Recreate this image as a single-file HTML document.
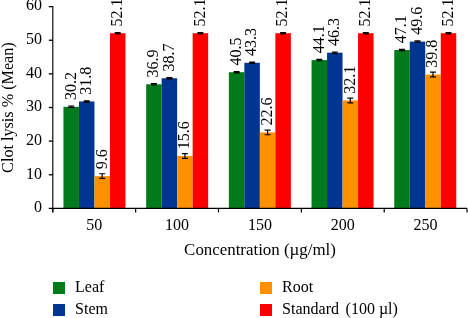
<!DOCTYPE html><html><head><meta charset="utf-8"><style>html,body{margin:0;padding:0;background:#fff;width:468px;height:318px;overflow:hidden}svg{display:block;will-change:transform}</style></head><body><svg width="468" height="318" viewBox="0 0 468 318">
<rect x="63.45" y="106.84" width="15.50" height="101.56" fill="#007a1a"/>
<rect x="146.15" y="84.31" width="15.50" height="124.09" fill="#007a1a"/>
<rect x="228.85" y="72.20" width="15.50" height="136.20" fill="#007a1a"/>
<rect x="311.55" y="60.09" width="15.50" height="148.31" fill="#007a1a"/>
<rect x="394.25" y="50.00" width="15.50" height="158.40" fill="#007a1a"/>
<rect x="78.95" y="101.46" width="15.50" height="106.94" fill="#003591"/>
<rect x="161.65" y="78.25" width="15.50" height="130.15" fill="#003591"/>
<rect x="244.35" y="62.78" width="15.50" height="145.62" fill="#003591"/>
<rect x="327.05" y="52.69" width="15.50" height="155.71" fill="#003591"/>
<rect x="409.75" y="41.60" width="15.50" height="166.80" fill="#003591"/>
<rect x="94.45" y="176.12" width="15.50" height="32.28" fill="#ff9000"/>
<rect x="177.15" y="155.94" width="15.50" height="52.46" fill="#ff9000"/>
<rect x="259.85" y="132.40" width="15.50" height="76.00" fill="#ff9000"/>
<rect x="342.55" y="100.45" width="15.50" height="107.95" fill="#ff9000"/>
<rect x="425.25" y="74.55" width="15.50" height="133.85" fill="#ff9000"/>
<rect x="109.95" y="33.19" width="15.50" height="175.21" fill="#ff0000"/>
<rect x="192.65" y="33.19" width="15.50" height="175.21" fill="#ff0000"/>
<rect x="275.35" y="33.19" width="15.50" height="175.21" fill="#ff0000"/>
<rect x="358.05" y="33.19" width="15.50" height="175.21" fill="#ff0000"/>
<rect x="440.75" y="33.19" width="15.50" height="175.21" fill="#ff0000"/>
<path d="M68.20 106.16H74.20M71.20 106.16V107.51M68.20 107.51H74.20" stroke="#000" stroke-width="1.2" fill="none"/>
<path d="M150.90 83.63H156.90M153.90 83.63V84.98M150.90 84.98H156.90" stroke="#000" stroke-width="1.2" fill="none"/>
<path d="M233.60 71.53H239.60M236.60 71.53V72.87M233.60 72.87H239.60" stroke="#000" stroke-width="1.2" fill="none"/>
<path d="M316.30 59.42H322.30M319.30 59.42V60.76M316.30 60.76H322.30" stroke="#000" stroke-width="1.2" fill="none"/>
<path d="M399.00 49.33H405.00M402.00 49.33V50.68M399.00 50.68H405.00" stroke="#000" stroke-width="1.2" fill="none"/>
<path d="M83.70 100.78H89.70M86.70 100.78V102.13M83.70 102.13H89.70" stroke="#000" stroke-width="1.2" fill="none"/>
<path d="M166.40 77.58H172.40M169.40 77.58V78.92M166.40 78.92H172.40" stroke="#000" stroke-width="1.2" fill="none"/>
<path d="M249.10 62.11H255.10M252.10 62.11V63.45M249.10 63.45H255.10" stroke="#000" stroke-width="1.2" fill="none"/>
<path d="M331.80 52.02H337.80M334.80 52.02V53.37M331.80 53.37H337.80" stroke="#000" stroke-width="1.2" fill="none"/>
<path d="M414.50 40.92H420.50M417.50 40.92V42.27M414.50 42.27H420.50" stroke="#000" stroke-width="1.2" fill="none"/>
<path d="M99.20 173.76H105.20M102.20 173.76V178.47M99.20 178.47H105.20" stroke="#000" stroke-width="1.2" fill="none"/>
<path d="M181.90 153.58H187.90M184.90 153.58V158.29M181.90 158.29H187.90" stroke="#000" stroke-width="1.2" fill="none"/>
<path d="M264.60 130.04H270.60M267.60 130.04V134.75M264.60 134.75H270.60" stroke="#000" stroke-width="1.2" fill="none"/>
<path d="M347.30 98.09H353.30M350.30 98.09V102.80M347.30 102.80H353.30" stroke="#000" stroke-width="1.2" fill="none"/>
<path d="M430.00 72.20H436.00M433.00 72.20V76.91M430.00 76.91H436.00" stroke="#000" stroke-width="1.2" fill="none"/>
<path d="M114.70 32.52H120.70M117.70 32.52V33.86M114.70 33.86H120.70" stroke="#000" stroke-width="1.2" fill="none"/>
<path d="M197.40 32.52H203.40M200.40 32.52V33.86M197.40 33.86H203.40" stroke="#000" stroke-width="1.2" fill="none"/>
<path d="M280.10 32.52H286.10M283.10 32.52V33.86M280.10 33.86H286.10" stroke="#000" stroke-width="1.2" fill="none"/>
<path d="M362.80 32.52H368.80M365.80 32.52V33.86M362.80 33.86H368.80" stroke="#000" stroke-width="1.2" fill="none"/>
<path d="M445.50 32.52H451.50M448.50 32.52V33.86M445.50 33.86H451.50" stroke="#000" stroke-width="1.2" fill="none"/>
<path d="M52.8 6.0V212.2" stroke="#000" stroke-width="1.15" fill="none"/>
<path d="M52.8 208.4H467.05" stroke="#000" stroke-width="1.3" fill="none"/>
<path d="M48.8 208.40H52.8" stroke="#000" stroke-width="1.3"/>
<path d="M48.8 174.77H52.8" stroke="#000" stroke-width="1.3"/>
<path d="M48.8 141.14H52.8" stroke="#000" stroke-width="1.3"/>
<path d="M48.8 107.51H52.8" stroke="#000" stroke-width="1.3"/>
<path d="M48.8 73.88H52.8" stroke="#000" stroke-width="1.3"/>
<path d="M48.8 40.25H52.8" stroke="#000" stroke-width="1.3"/>
<path d="M48.8 6.62H52.8" stroke="#000" stroke-width="1.3"/>
<path d="M52.80 208.4V212.4" stroke="#000" stroke-width="1.2"/>
<path d="M135.65 208.4V212.4" stroke="#000" stroke-width="1.2"/>
<path d="M218.50 208.4V212.4" stroke="#000" stroke-width="1.2"/>
<path d="M301.35 208.4V212.4" stroke="#000" stroke-width="1.2"/>
<path d="M384.20 208.4V212.4" stroke="#000" stroke-width="1.2"/>
<path d="M467.05 208.4V212.4" stroke="#000" stroke-width="1.2"/>
<text x="42" y="212.20" text-anchor="end" font-family="Liberation Serif" font-size="16">0</text>
<text x="42" y="178.57" text-anchor="end" font-family="Liberation Serif" font-size="16">10</text>
<text x="42" y="144.94" text-anchor="end" font-family="Liberation Serif" font-size="16">20</text>
<text x="42" y="111.31" text-anchor="end" font-family="Liberation Serif" font-size="16">30</text>
<text x="42" y="77.68" text-anchor="end" font-family="Liberation Serif" font-size="16">40</text>
<text x="42" y="44.05" text-anchor="end" font-family="Liberation Serif" font-size="16">50</text>
<text x="42" y="10.42" text-anchor="end" font-family="Liberation Serif" font-size="16">60</text>
<text x="94.22" y="230" text-anchor="middle" font-family="Liberation Serif" font-size="16">50</text>
<text x="177.07" y="230" text-anchor="middle" font-family="Liberation Serif" font-size="16">100</text>
<text x="259.93" y="230" text-anchor="middle" font-family="Liberation Serif" font-size="16">150</text>
<text x="342.77" y="230" text-anchor="middle" font-family="Liberation Serif" font-size="16">200</text>
<text x="425.62" y="230" text-anchor="middle" font-family="Liberation Serif" font-size="16">250</text>
<text transform="translate(75.50,100.04) rotate(-90)" font-family="Liberation Serif" font-size="16">30.2</text>
<text transform="translate(158.20,77.51) rotate(-90)" font-family="Liberation Serif" font-size="16">36.9</text>
<text transform="translate(240.90,65.40) rotate(-90)" font-family="Liberation Serif" font-size="16">40.5</text>
<text transform="translate(323.60,53.29) rotate(-90)" font-family="Liberation Serif" font-size="16">44.1</text>
<text transform="translate(406.30,43.20) rotate(-90)" font-family="Liberation Serif" font-size="16">47.1</text>
<text transform="translate(91.00,94.66) rotate(-90)" font-family="Liberation Serif" font-size="16">31.8</text>
<text transform="translate(173.70,71.45) rotate(-90)" font-family="Liberation Serif" font-size="16">38.7</text>
<text transform="translate(256.40,55.98) rotate(-90)" font-family="Liberation Serif" font-size="16">43.3</text>
<text transform="translate(339.10,45.89) rotate(-90)" font-family="Liberation Serif" font-size="16">46.3</text>
<text transform="translate(421.80,34.80) rotate(-90)" font-family="Liberation Serif" font-size="16">49.6</text>
<text transform="translate(106.50,169.32) rotate(-90)" font-family="Liberation Serif" font-size="16">9.6</text>
<text transform="translate(189.20,149.14) rotate(-90)" font-family="Liberation Serif" font-size="16">15.6</text>
<text transform="translate(271.90,125.60) rotate(-90)" font-family="Liberation Serif" font-size="16">22.6</text>
<text transform="translate(354.60,93.65) rotate(-90)" font-family="Liberation Serif" font-size="16">32.1</text>
<text transform="translate(437.30,67.75) rotate(-90)" font-family="Liberation Serif" font-size="16">39.8</text>
<text transform="translate(122.00,26.39) rotate(-90)" font-family="Liberation Serif" font-size="16">52.1</text>
<text transform="translate(204.70,26.39) rotate(-90)" font-family="Liberation Serif" font-size="16">52.1</text>
<text transform="translate(287.40,26.39) rotate(-90)" font-family="Liberation Serif" font-size="16">52.1</text>
<text transform="translate(370.10,26.39) rotate(-90)" font-family="Liberation Serif" font-size="16">52.1</text>
<text transform="translate(452.80,26.39) rotate(-90)" font-family="Liberation Serif" font-size="16">52.1</text>
<text transform="translate(260,255) scale(1.056,1)" text-anchor="middle" font-family="Liberation Serif" font-size="16">Concentration (µg/ml)</text>
<text transform="translate(13,107.6) rotate(-90) scale(1.01,1)" text-anchor="middle" font-family="Liberation Serif" font-size="16">Clot lysis % (Mean)</text>
<rect x="53" y="282" width="12" height="12" fill="#007a1a"/>
<text x="75.1" y="292.4" font-family="Liberation Serif" font-size="16">Leaf</text>
<rect x="53" y="304" width="12" height="12" fill="#003591"/>
<text x="75.1" y="314.4" font-family="Liberation Serif" font-size="16">Stem</text>
<rect x="260" y="282" width="12" height="12" fill="#ff9000"/>
<text x="282.1" y="292.4" font-family="Liberation Serif" font-size="16">Root</text>
<rect x="260" y="304" width="12" height="12" fill="#ff0000"/>
<text x="282.1" y="314.4" font-family="Liberation Serif" font-size="16">Standard<tspan dx="6.6">(100 µl)</tspan></text>
</svg></body></html>
